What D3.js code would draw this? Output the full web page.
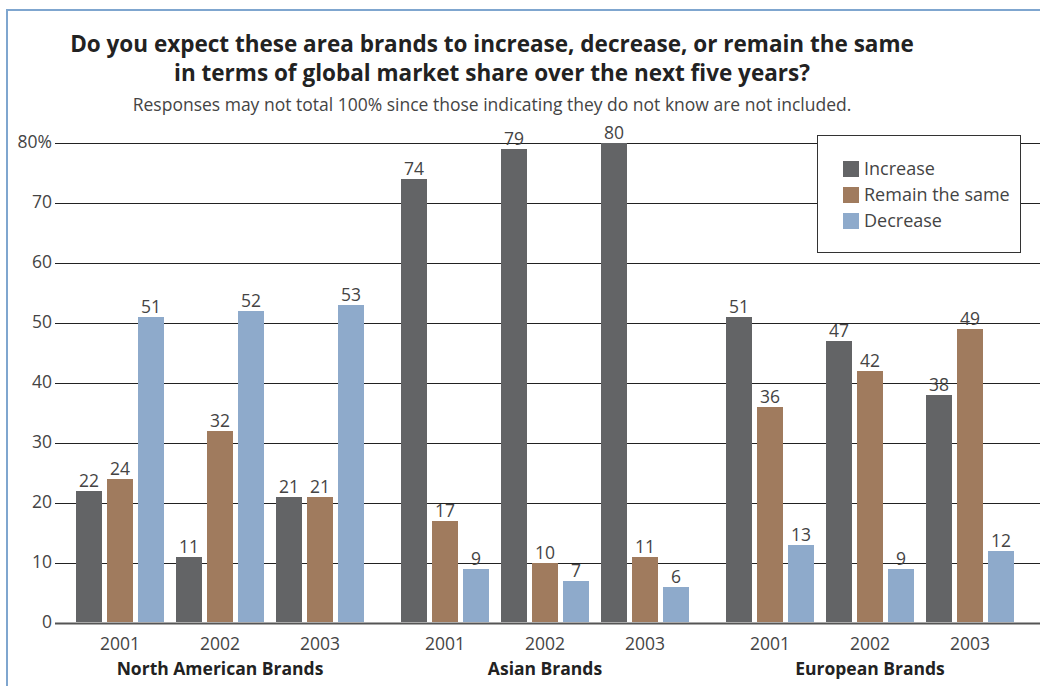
<!DOCTYPE html>
<html>
<head>
<meta charset="utf-8">
<script src="https://cdn.jsdelivr.net/npm/d3@7"></script>
<style>
  html, body { margin: 0; padding: 0; background: #fff; }
  svg { display: block; font-family: "Open Sans", "Liberation Sans", Arial, sans-serif; }
</style>
</head>
<body>
<svg id="chart" width="1040" height="686"></svg>
<script>
// Survey responses by brand region and year (percent of respondents)
const regions = ["North American Brands", "Asian Brands", "European Brands"];
const years = ["2001", "2002", "2003"];
const seriesNames = ["Increase", "Remain the same", "Decrease"];
const increaseValues = [22, 11, 21, 74, 79, 80, 51, 47, 38];
const remainValues = [24, 32, 21, 17, 10, 11, 36, 42, 49];
const decreaseValues = [51, 52, 53, 9, 7, 6, 13, 9, 12];
const yTicks = [0, 10, 20, 30, 40, 50, 60, 70, 80];

const colors = { "Increase": "#636466", "Remain the same": "#a07b5e", "Decrease": "#8eaacb" };
const seriesValues = { "Increase": increaseValues, "Remain the same": remainValues, "Decrease": decreaseValues };

const rows = [];
regions.forEach((r, ri) => years.forEach((yr, yi) => seriesNames.forEach(s => {
  rows.push({ region: r, year: yr, series: s, value: seriesValues[s][ri * years.length + yi] });
})));

const svg = d3.select("#chart");

// Frame
svg.append("path")
  .attr("d", "M7,686 V10 H1040")
  .attr("fill", "none").attr("stroke", "#7fa6cf").attr("stroke-width", 2);

// Scales
const y = d3.scaleLinear().domain([0, 80]).range([623, 143]);
const xRegion = d3.scaleBand().domain(regions).range([57.5, 1032.5]).padding(0);
const xYear = d3.scaleBand().domain(years).range([0, xRegion.bandwidth()]).paddingInner(0).paddingOuter(0.125);
const xSeries = d3.scaleBand().domain(seriesNames).range([3.5, xYear.bandwidth() - 3.5])
  .paddingInner(5 / 31).paddingOuter(5 / 62);

// Gridlines and y tick labels
const yAxis = d3.axisLeft(y).tickValues(yTicks).tickSize(-(1040 - 55)).tickPadding(3)
  .tickFormat(d => d === 80 ? "80%" : d);
const gy = svg.append("g").attr("transform", "translate(55,0)").call(yAxis);
gy.select(".domain").remove();
gy.selectAll(".tick line").attr("stroke", "#222").attr("stroke-width", 1.2);
gy.selectAll(".tick").filter(d => d === 0).select("line").attr("stroke", "#555").attr("stroke-width", 2.2);
gy.selectAll(".tick text").attr("fill", "#444").attr("font-size", 17.5).attr("x", -3).attr("dy", "0.28em")
  .attr("font-family", "'Open Sans', sans-serif");

// Title
const title = svg.append("g").attr("fill", "#222").attr("font-weight", "bold").attr("font-size", 22.5)
  .attr("text-anchor", "middle");
title.append("text").attr("x", 492).attr("y", 52).text("Do you expect these area brands to increase, decrease, or remain the same");
title.append("text").attr("x", 492).attr("y", 81).text("in terms of global market share over the next five years?");
svg.append("text").attr("x", 492).attr("y", 111).attr("text-anchor", "middle").attr("font-size", 17.5)
  .attr("fill", "#444")
  .text("Responses may not total 100% since those indicating they do not know are not included.");

// Legend box (drawn over gridlines)
const legend = svg.append("g").attr("transform", "translate(817,135)");
legend.append("rect").attr("x", 0.5).attr("y", 0.5).attr("width", 203).attr("height", 117)
  .attr("fill", "#fff").attr("stroke", "#333").attr("stroke-width", 1);
seriesNames.forEach((s, i) => {
  legend.append("rect").attr("x", 26).attr("y", 26 + i * 26).attr("width", 16).attr("height", 16).attr("fill", colors[s]);
  legend.append("text").attr("x", 47).attr("y", 40 + i * 26).attr("font-size", 18).attr("fill", "#444").text(s);
});

// Bars
const barX = d => xRegion(d.region) + xYear(d.year) + xSeries(d.series);
svg.append("g").selectAll("rect").data(rows).join("rect")
  .attr("x", barX)
  .attr("y", d => y(d.value))
  .attr("width", xSeries.bandwidth())
  .attr("height", d => y(0) - 1 - y(d.value))
  .attr("fill", d => colors[d.series]);

// Value labels
svg.append("g").selectAll("text").data(rows).join("text")
  .attr("x", d => barX(d) + xSeries.bandwidth() / 2)
  .attr("y", d => y(d.value) - 4.5)
  .attr("text-anchor", "middle").attr("font-size", 17.5).attr("fill", "#444")
  .text(d => d.value);

// Year labels
const yearRows = [];
regions.forEach(r => years.forEach(yr => yearRows.push({ region: r, year: yr })));
svg.append("g").selectAll("text").data(yearRows).join("text")
  .attr("x", d => xRegion(d.region) + xYear(d.year) + xYear.bandwidth() / 2)
  .attr("y", 650)
  .attr("text-anchor", "middle").attr("font-size", 17.5).attr("fill", "#444")
  .text(d => d.year);

// Region labels
svg.append("g").selectAll("text").data(regions).join("text")
  .attr("x", d => xRegion(d) + xRegion.bandwidth() / 2)
  .attr("y", 675)
  .attr("text-anchor", "middle").attr("font-size", 17.5).attr("font-weight", "bold").attr("fill", "#222")
  .text(d => d);
</script>
</body>
</html>
